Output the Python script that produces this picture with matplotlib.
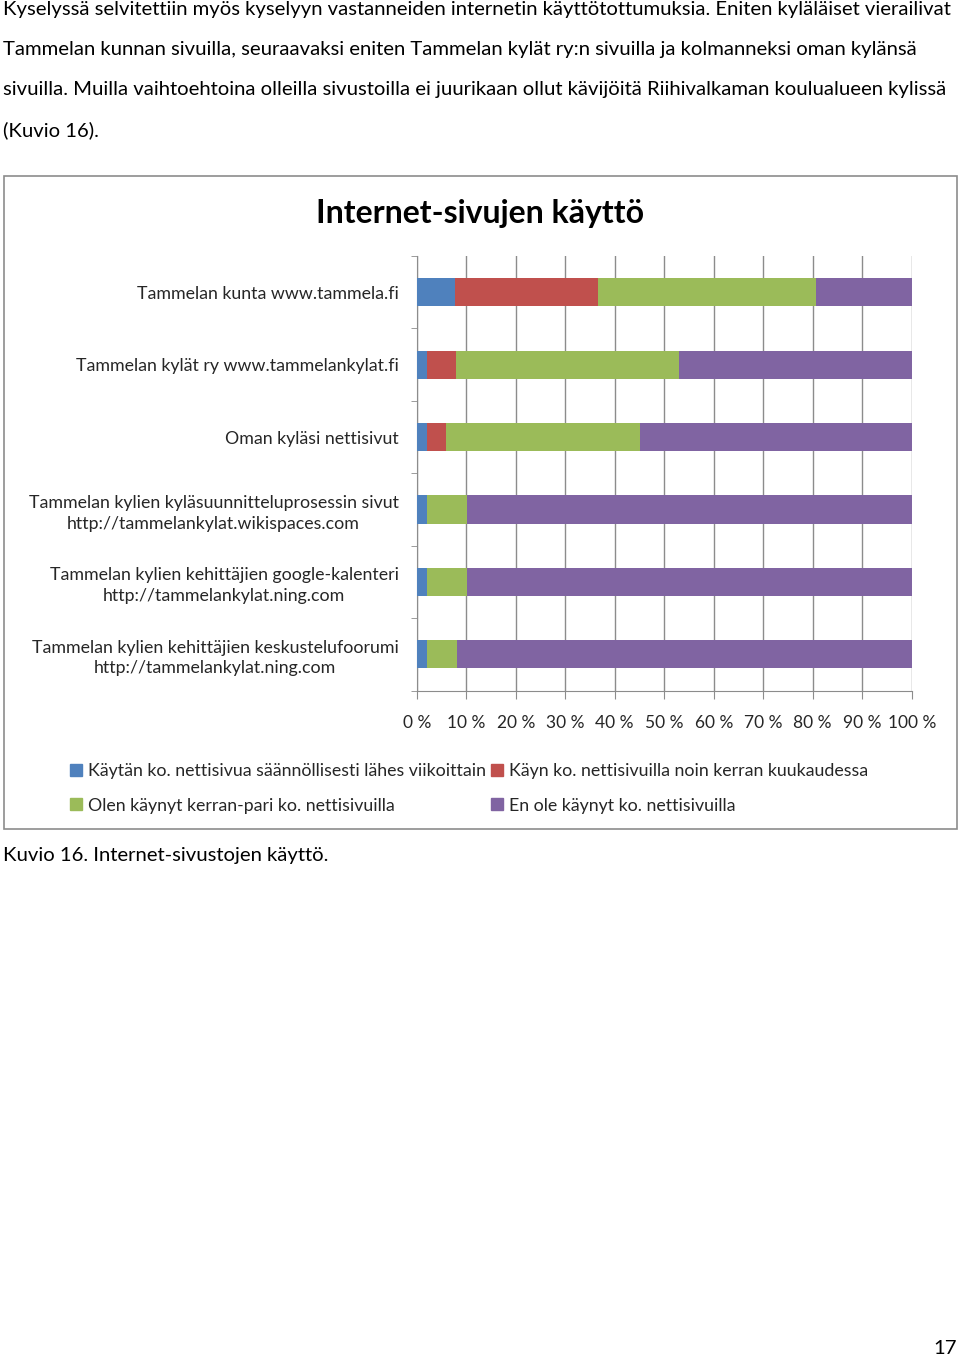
import matplotlib.pyplot as plt
import numpy as np
from matplotlib.patches import Patch, Rectangle

plt.rcParams['font.family'] = ['Lato', 'DejaVu Sans']

# Data
categories = [
    'Tammelan kunta www.tammela.fi',
    'Tammelan kylät ry www.tammelankylat.fi',
    'Oman kyläsi nettisivut',
    'Tammelan kylien kyläsuunnitteluprosessin sivut\nhttp://tammelankylat.wikispaces.com',
    'Tammelan kylien kehittäjien google-kalenteri\nhttp://tammelankylat.ning.com',
    'Tammelan kylien kehittäjien keskustelufoorumi\nhttp://tammelankylat.ning.com',
]
weekly = [7.7, 2.0, 2.0, 2.1, 2.1, 2.1]
monthly = [29.0, 5.9, 3.9, 0.0, 0.0, 0.0]
once = [44.0, 45.0, 39.2, 8.1, 8.1, 6.0]
never = [19.3, 47.1, 54.9, 89.8, 89.8, 91.9]

series_names = [
    'Käytän ko. nettisivua säännöllisesti lähes viikoittain',
    'Käyn ko. nettisivuilla noin kerran kuukaudessa',
    'Olen käynyt kerran-pari ko. nettisivuilla',
    'En ole käynyt ko. nettisivuilla',
]
colors = ['#4F81BD', '#C0504D', '#9BBB59', '#8064A2']

xticks = np.arange(0, 101, 10)
xtick_labels = ['%d %%' % v for v in xticks]

page_lines = [
    'Kyselyssä selvitettiin myös kyselyyn vastanneiden internetin käyttötottumuksia. Eniten kyläläiset vierailivat',
    'Tammelan kunnan sivuilla, seuraavaksi eniten Tammelan kylät ry:n sivuilla ja kolmanneksi oman kylänsä',
    'sivuilla. Muilla vaihtoehtoina olleilla sivustoilla ei juurikaan ollut kävijöitä Riihivalkaman koulualueen kylissä',
    '(Kuvio 16).',
]
caption = 'Kuvio 16. Internet-sivustojen käyttö.'
page_number = '17'

W, H = 960, 1360
fig = plt.figure(figsize=(W / 100, H / 100), dpi=100)


def fx(px):
    return px / W


def fy(py):
    return 1 - py / H


# page text
for i, line in enumerate(page_lines):
    fig.text(fx(3), fy(10 + 40 * i), line, fontsize=14.6, va='center', ha='left', color='black')
fig.text(fx(3), fy(856), caption, fontsize=14.6, va='center', ha='left', color='black')
fig.text(fx(957), fy(1349), page_number, fontsize=14.6, va='center', ha='right', color='black')

# chart frame
fig.patches.append(Rectangle((fx(4), fy(829)), fx(953), 653 / H, transform=fig.transFigure,
                             fill=False, edgecolor='#8c8c8c', linewidth=1.2))

fig.text(0.5, fy(213), 'Internet-sivujen käyttö', fontsize=23, fontweight='bold',
         ha='center', va='center', color='black')

ax = fig.add_axes([fx(416.7), fy(690.5), fx(495), 434.5 / H])
y = np.arange(len(categories))
left = np.zeros(len(categories))
for vals, c, name in zip([weekly, monthly, once, never], colors, series_names):
    ax.barh(y, vals, left=left, height=0.39, color=c, label=name, zorder=3)
    left += np.array(vals)

ax.set_xlim(0, 100)
ax.set_ylim(len(categories) - 0.5, -0.5)
ax.set_xticks(xticks)
ax.set_xticklabels(xtick_labels)
ax.set_yticks(y)
ax.set_yticklabels(categories, multialignment='center', linespacing=1.35)
ax.set_yticks(np.arange(-0.5, len(categories)), minor=True)
ax.tick_params(axis='y', which='major', length=0, pad=13, labelsize=12.8, labelcolor='#262626')
ax.tick_params(axis='y', which='minor', length=4, color='#8c8c8c', direction='out')
ax.tick_params(axis='x', length=6, color='#8c8c8c', direction='out', pad=12,
               labelsize=12.5, labelcolor='#262626')
ax.grid(axis='x', color='#8c8c8c', linewidth=1, zorder=0)
for s in ['top', 'right']:
    ax.spines[s].set_visible(False)
for s in ['left', 'bottom']:
    ax.spines[s].set_color('#8c8c8c')

handles = [Patch(color=c) for c in colors]
order = [0, 2, 1, 3]
fig.legend([handles[i] for i in order], [series_names[i] for i in order], ncol=2,
           loc='upper left', bbox_to_anchor=(fx(54), fy(747)), frameon=False,
           fontsize=12.8, handlelength=0.65, handleheight=0.65, handletextpad=0.35,
           columnspacing=0.3, labelspacing=1.05, labelcolor='#262626')

fig.savefig('out.png', dpi=100)
